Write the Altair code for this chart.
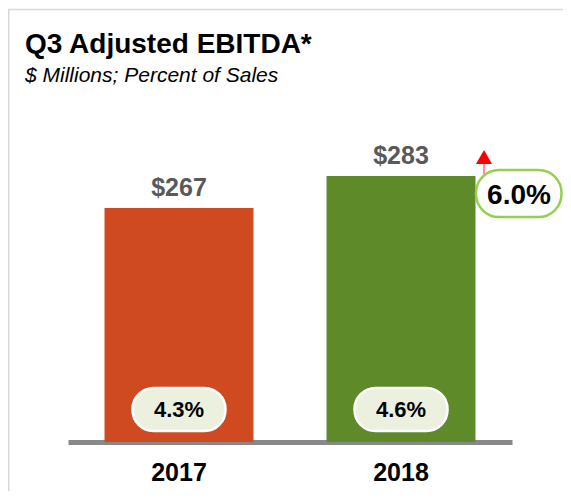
import altair as alt
import pandas as pd

# ---- data ----
years = ["2017", "2018"]
ebitda = [267, 283]
ebitda_labels = ["$267", "$283"]
margins = ["4.3%", "4.6%"]
bar_colors = ["#D04A21", "#5E8A2A"]
growth_label = ["6.0%"]
title_text = ["Q3 Adjusted EBITDA*"]
subtitle_text = ["$ Millions; Percent of Sales"]
axis_base = 150

FONT = "Liberation Sans, Arial, sans-serif"

df = pd.DataFrame({"Year": years, "EBITDA": ebitda, "Label": ebitda_labels,
                   "Margin": margins, "Color": bar_colors})

W, H = 444, 434

xscale = alt.Scale(domain=years, paddingInner=0.329, paddingOuter=0.1645)
yscale = alt.Scale(domain=[150, 367], zero=False, nice=False)

base = alt.Chart(df)

bars = base.mark_bar().encode(
    x=alt.X("Year:N", scale=xscale, sort=years,
            axis=alt.Axis(title=None, labelAngle=0, ticks=False, tickSize=0,
                          domainColor="#888888", domainWidth=5,
                          labelFont=FONT, labelFontSize=25, labelFontWeight="bold",
                          labelColor="#000000", labelBaseline="alphabetic",
                          labelPadding=38, grid=False)),
    y=alt.Y("EBITDA:Q", scale=yscale, axis=None),
    y2=alt.datum(axis_base),
    color=alt.Color("Color:N", scale=None),
)

value_labels = base.mark_text(
    font=FONT, fontSize=25, fontWeight="bold", color="#595959",
    baseline="alphabetic", dy=-12,
).encode(
    x=alt.X("Year:N", scale=xscale, sort=years),
    y=alt.Y("EBITDA:Q", scale=yscale),
    text="Label:N",
)

pills = base.mark_bar(
    width=93, cornerRadius=21, fill="#EBF0DF", stroke="#FFFFFF", strokeWidth=2.5,
).encode(
    x=alt.X("Year:N", scale=xscale, sort=years),
    y=alt.value(380),
    y2=alt.value(423),
)

pill_text = base.mark_text(
    font=FONT, fontSize=22, fontWeight="bold", color="#000000", baseline="alphabetic",
).encode(
    x=alt.X("Year:N", scale=xscale, sort=years),
    y=alt.value(409),
    text="Margin:N",
)

gdf = pd.DataFrame({"t": growth_label})
growth_pill = alt.Chart(gdf).mark_rect(
    cornerRadius=23, fill="#FFFFFF", stroke="#92D050", strokeWidth=2.5,
).encode(
    x=alt.value(408), x2=alt.value(493.5), y=alt.value(162), y2=alt.value(209),
)
growth_text = alt.Chart(gdf).mark_text(
    font=FONT, fontSize=28, fontWeight="bold", color="#000000",
    baseline="alphabetic", align="center",
).encode(x=alt.value(451), y=alt.value(196), text="t:N")

arrow_line = alt.Chart(gdf).mark_rule(color="#FF6F6F", strokeWidth=1.5).encode(
    x=alt.value(416), y=alt.value(154), y2=alt.value(170),
)
arrow_head = alt.Chart(gdf).mark_point(
    shape="triangle-up", size=260, filled=True, color="#FF0000", opacity=1,
).encode(x=alt.value(416), y=alt.value(149))

title = alt.Chart(pd.DataFrame({"t": title_text})).mark_text(
    font=FONT, fontSize=28, fontWeight="bold", color="#000000",
    align="left", baseline="alphabetic",
).encode(x=alt.value(-43), y=alt.value(45), text="t:N")

subtitle = alt.Chart(pd.DataFrame({"t": subtitle_text})).mark_text(
    font=FONT, fontSize=21, fontStyle="italic", color="#000000",
    align="left", baseline="alphabetic",
).encode(x=alt.value(-43), y=alt.value(74), text="t:N")

border_top = alt.Chart(gdf).mark_rule(color="#D9D9D9", strokeWidth=1.5).encode(
    x=alt.value(-61), x2=alt.value(500), y=alt.value(1.5),
)
border_left = alt.Chart(gdf).mark_rule(color="#D9D9D9", strokeWidth=3).encode(
    x=alt.value(-60), y=alt.value(1), y2=alt.value(490),
)

chart = alt.layer(
    border_top, border_left, title, subtitle,
    bars, value_labels, pills, pill_text,
    arrow_line, arrow_head, growth_pill, growth_text,
).properties(
    width=W, height=H,
    autosize=alt.AutoSizeParams(type="none"),
    padding={"left": 60, "top": 0, "right": 51, "bottom": 49},
).configure(
    background="#FFFFFF",
    view=alt.ViewConfig(stroke=None),
)

chart.save("out.html", embed_options={"renderer": "svg", "actions": False})
